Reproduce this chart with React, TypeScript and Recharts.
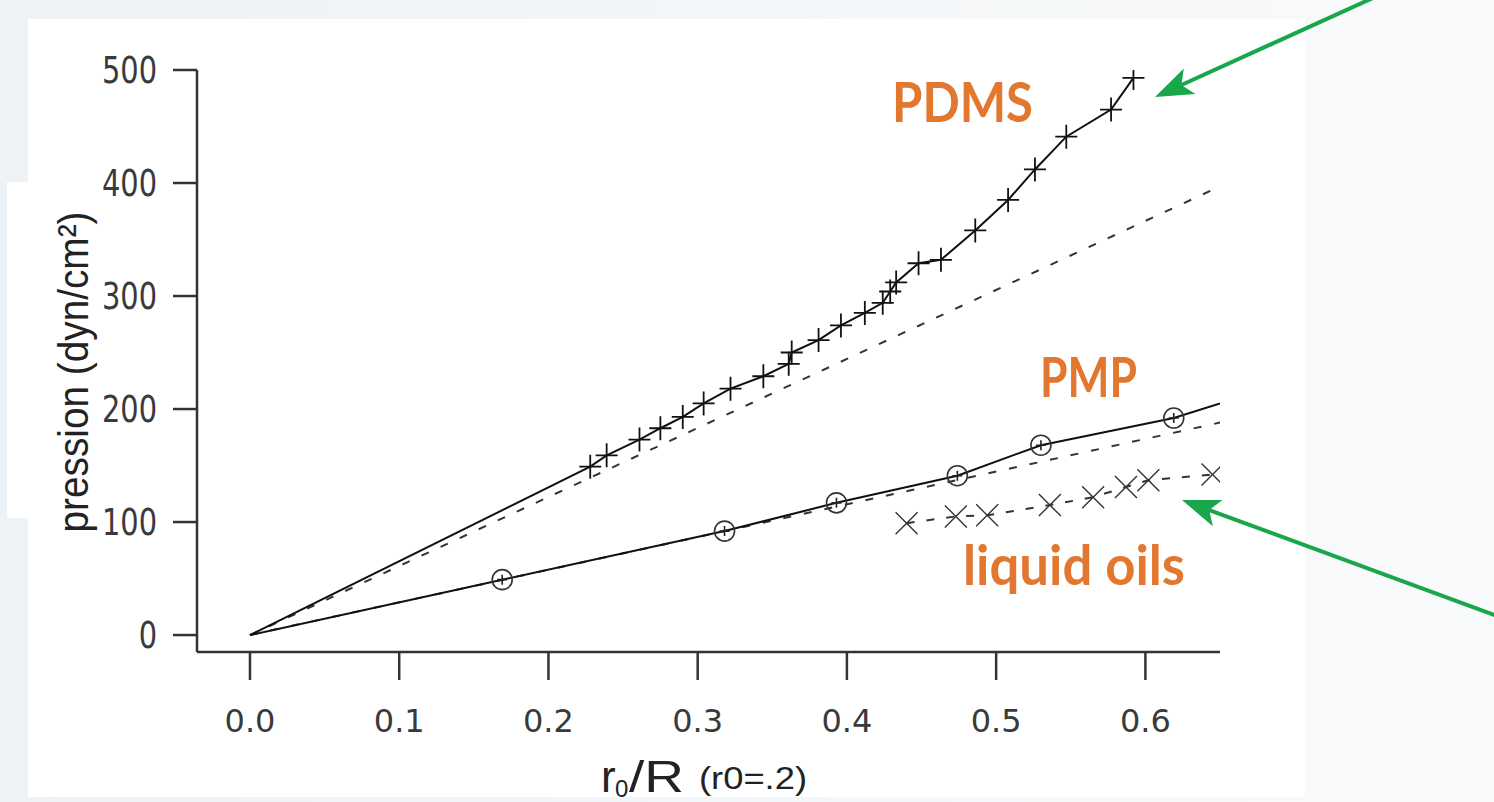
import React from 'react';
import { ScatterChart, Scatter, XAxis, YAxis } from 'recharts';

// values
const pdmsX = [0.228, 0.239, 0.261, 0.275, 0.29, 0.304, 0.322, 0.344, 0.361, 0.363, 0.381, 0.396, 0.412, 0.424, 0.429, 0.433, 0.448, 0.463, 0.486, 0.508, 0.526, 0.547, 0.577, 0.592];
const pdmsY = [149, 159, 173, 183, 193, 205, 218, 229, 240, 250, 261, 274, 285, 294, 304, 312, 329, 332, 358, 385, 412, 441, 465, 493];
const pdmsTrendX = [0, 0.65];
const pdmsTrendY = [0, 397];

const pmpX = [0.169, 0.318, 0.393, 0.474, 0.53, 0.619];
const pmpY = [49, 92, 117, 141, 168, 192];
const pmpEndX = 0.65;
const pmpEndY = 205;
const pmpTrendX = [0, 0.65];
const pmpTrendY = [0, 188];

const oilX = [0.44, 0.473, 0.494, 0.536, 0.565, 0.587, 0.602, 0.645];
const oilY = [99, 105, 106, 115, 122, 131, 137, 142];

const xTicks = [0, 0.1, 0.2, 0.3, 0.4, 0.5, 0.6];
const yTicks = [0, 100, 200, 300, 400, 500];

const zip = (xs: number[], ys: number[]) => xs.map((x, i) => ({ x, y: ys[i] }));

const pdmsPoints = zip(pdmsX, pdmsY);
const pdmsLine = [{ x: 0, y: 0 }, ...pdmsPoints];
const pdmsTrend = zip(pdmsTrendX, pdmsTrendY);
const pmpPoints = zip(pmpX, pmpY);
const pmpLine = [{ x: 0, y: 0 }, ...pmpPoints, { x: pmpEndX, y: pmpEndY }];
const pmpTrend = zip(pmpTrendX, pmpTrendY);
const oilPoints = zip(oilX, oilY);

const INK = '#222';
const ORANGE = '#e2772f';
const GREEN = '#1aa64a';

const NoMark = () => <g />;

const PlusMark = ({ cx, cy }: any) => (
  <path d={`M${cx - 11},${cy}H${cx + 11}M${cx},${cy - 12}V${cy + 12}`} stroke="#111" strokeWidth={1.8} fill="none" />
);

const CirclePlus = ({ cx, cy }: any) => (
  <g>
    <circle cx={cx} cy={cy} r={10} fill="none" stroke="#333" strokeWidth={1.6} />
    <path d={`M${cx - 5},${cy}H${cx + 5}M${cx},${cy - 5}V${cy + 5}`} stroke="#222" strokeWidth={1.6} />
  </g>
);

const XMark = ({ cx, cy }: any) => (
  <path
    d={`M${cx - 11},${cy - 11}L${cx + 11},${cy + 11}M${cx - 11},${cy + 11}L${cx + 11},${cy - 11}`}
    stroke="#333"
    strokeWidth={1.4}
    fill="none"
  />
);

const YTick = ({ x, y, payload }: any) => (
  <g transform={`translate(${x - 16},${y + 13}) scale(0.78,1)`}>
    <text x={0} y={0} textAnchor="end" fontSize={37} fontFamily="DejaVu Sans" fill="#3a3a3a">
      {payload.value}
    </text>
  </g>
);

const XTick = ({ x, y, payload }: any) => (
  <text x={x} y={y + 52} textAnchor="middle" fontSize={32} fontFamily="DejaVu Sans" fill="#3a3a3a">
    {Number(payload.value).toFixed(1)}
  </text>
);

const YTitle = () => (
  <text
    transform="translate(88,372) rotate(-90)"
    textAnchor="middle"
    fontSize={42}
    fontFamily="Liberation Sans"
    fill={INK}
    textLength={321}
    lengthAdjust="spacingAndGlyphs"
  >
    pression (dyn/cm²)
  </text>
);

const XTitle = () => (
  <g fill={INK} fontFamily="Liberation Sans">
    <text x={601} y={792} fontSize={44}>r</text>
    <text x={615} y={797} fontSize={24}>0</text>
    <text x={629} y={792} fontSize={44} textLength={55} lengthAdjust="spacingAndGlyphs">/R</text>
    <text x={699} y={789} fontSize={31} textLength={108} lengthAdjust="spacingAndGlyphs">(r0=.2)</text>
  </g>
);

function Arrow({ x1, y1, x2, y2 }: { x1: number; y1: number; x2: number; y2: number }) {
  const dx = x2 - x1;
  const dy = y2 - y1;
  const len = Math.hypot(dx, dy);
  const ux = dx / len;
  const uy = dy / len;
  const nx = -uy;
  const ny = ux;
  const head = 38;
  const half = 14;
  const bx = x2 - ux * head;
  const by = y2 - uy * head;
  const notchX = bx + ux * 9;
  const notchY = by + uy * 9;
  return (
    <g>
      <line x1={x1} y1={y1} x2={notchX} y2={notchY} stroke={GREEN} strokeWidth={4} />
      <polygon
        points={`${x2},${y2} ${bx + nx * half},${by + ny * half} ${notchX},${notchY} ${bx - nx * half},${by - ny * half}`}
        fill={GREEN}
      />
    </g>
  );
}

const tagFont = "Lato, 'Open Sans', sans-serif";
const dashed = { stroke: '#333', strokeWidth: 2, strokeDasharray: '8 13' };

export default function App() {
  return (
    <div
      style={{
        position: 'absolute',
        left: 0,
        top: 0,
        width: 1494,
        height: 802,
        overflow: 'hidden',
        background: 'linear-gradient(90deg, #edf2f6 0%, #f4f7f9 55%, #f9fafb 100%)',
      }}
    >
      <div style={{ position: 'absolute', left: 28, top: 19, width: 1277, height: 778, background: '#fff' }} />
      <div style={{ position: 'absolute', left: 7, top: 182, width: 60, height: 336, background: '#fff' }} />
      <div style={{ position: 'absolute', left: 0, top: 0 }}>
        <ScatterChart width={1494} height={802} margin={{ top: 70, right: 274, bottom: 90, left: 97 }}>
          <XAxis
            type="number"
            dataKey="x"
            domain={[-0.0355, 0.65]}
            allowDataOverflow
            ticks={xTicks}
            tickSize={28}
            tickMargin={0}
            height={60}
            stroke="#333"
            axisLine={{ stroke: '#333', strokeWidth: 2.5 }}
            tickLine={{ stroke: '#333', strokeWidth: 2.5 }}
            tick={<XTick />}
            label={() => <XTitle />}
          />
          <YAxis
            type="number"
            dataKey="y"
            domain={[-15, 500]}
            allowDataOverflow
            ticks={yTicks}
            tickSize={24}
            tickMargin={0}
            width={100}
            stroke="#333"
            axisLine={{ stroke: '#333', strokeWidth: 2.5 }}
            tickLine={{ stroke: '#333', strokeWidth: 2.5 }}
            tick={<YTick />}
            label={() => <YTitle />}
          />
          <Scatter name="PDMS trend" data={pdmsTrend} fill="#333" line={dashed} shape={NoMark} isAnimationActive={false} />
          <Scatter name="PMP trend" data={pmpTrend} fill="#333" line={dashed} shape={NoMark} isAnimationActive={false} />
          <Scatter
            name="PDMS fit"
            data={pdmsLine}
            fill="#111"
            line={{ stroke: '#111', strokeWidth: 2 }}
            shape={NoMark}
            isAnimationActive={false}
          />
          <Scatter name="PDMS" data={pdmsPoints} fill="#111" shape={PlusMark} isAnimationActive={false} />
          <Scatter
            name="PMP fit"
            data={pmpLine}
            fill="#111"
            line={{ stroke: '#111', strokeWidth: 2 }}
            shape={NoMark}
            isAnimationActive={false}
          />
          <Scatter name="PMP" data={pmpPoints} fill="#333" shape={CirclePlus} isAnimationActive={false} />
          <Scatter
            name="liquid oils"
            data={oilPoints}
            fill="#333"
            line={{ stroke: '#333', strokeWidth: 2, strokeDasharray: '8 12' }}
            shape={XMark}
            isAnimationActive={false}
          />
        </ScatterChart>
      </div>
      <svg width={1494} height={802} style={{ position: 'absolute', left: 0, top: 0, pointerEvents: 'none' }}>
        <Arrow x1={1375} y1={-3} x2={1155} y2={97} />
        <Arrow x1={1500} y1={617} x2={1182} y2={500} />
        <text x={892} y={122} fontSize={55} fontWeight={700} fontFamily={tagFont} fill={ORANGE} textLength={141} lengthAdjust="spacingAndGlyphs">
          PDMS
        </text>
        <text x={1040} y={397} fontSize={55} fontWeight={700} fontFamily={tagFont} fill={ORANGE} textLength={97} lengthAdjust="spacingAndGlyphs">
          PMP
        </text>
        <text x={963} y={585} fontSize={55} fontWeight={700} fontFamily={tagFont} fill={ORANGE} textLength={222} lengthAdjust="spacingAndGlyphs">
          liquid oils
        </text>
      </svg>
    </div>
  );
}
